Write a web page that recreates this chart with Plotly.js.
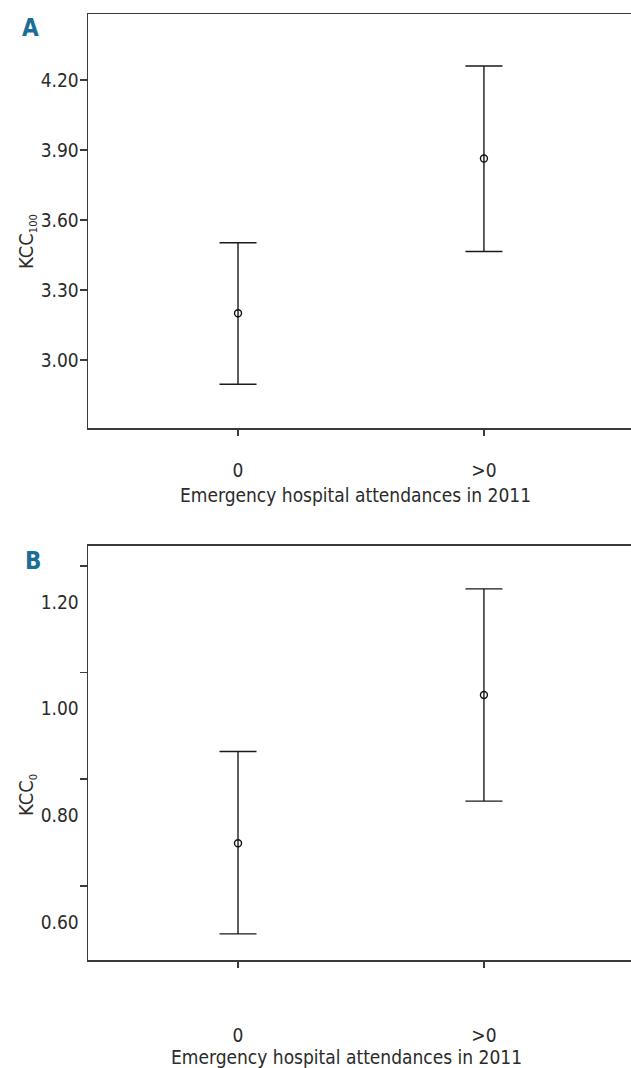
<!DOCTYPE html>
<html>
<head>
<meta charset="utf-8">
<script src="https://cdn.plot.ly/plotly-3.0.1.min.js"></script>
<style>
  html, body { margin: 0; padding: 0; background: #fff; }
  #chart { width: 631px; height: 1068px; }
</style>
</head>
<body>
<div id="chart"></div>
<script>
// ---- Data ----
const categories = ['0', '>0'];

// Panel A: KCC100, mean with 95% CI
const meanA  = [3.200, 3.864];
const upperA = [3.503, 4.261];
const lowerA = [2.896, 3.465];
const tickValsA = [3.00, 3.30, 3.60, 3.90, 4.20];
const tickTextA = ['3.00', '3.30', '3.60', '3.90', '4.20'];

// Panel B: KCC0, mean with 95% CI
const meanB  = [0.680, 0.958];
const upperB = [0.852, 1.157];
const lowerB = [0.510, 0.759];
const tickValsB = [0.60, 0.80, 1.00, 1.20];
const tickTextB = ['0.60', '0.80', '1.00', '1.20'];

const xTitle = 'Emergency hospital attendances in 2011';

// ---- Styling ----
const FONT = 'DejaVu Sans Condensed, Liberation Sans Narrow, sans-serif';
const INK = '#2b2b2b';
const AX = '#3a3a3a';

function ciTrace(mean, upper, lower, xa, ya) {
  return {
    type: 'scatter', mode: 'markers',
    x: categories, y: mean, xaxis: xa, yaxis: ya,
    marker: { symbol: 'circle-open', size: 7, color: '#111', line: { width: 1.4, color: '#111' } },
    error_y: {
      type: 'data', symmetric: false,
      array: upper.map((u, i) => u - mean[i]),
      arrayminus: lower.map((l, i) => mean[i] - l),
      color: '#1a1a1a', thickness: 1.4, width: 18.5
    },
    hoverinfo: 'skip'
  };
}

const data = [
  ciTrace(meanA, upperA, lowerA, 'x', 'y'),
  ciTrace(meanB, upperB, lowerB, 'x2', 'y2')
];

function xAxis(anchor, standoff) {
  return {
    type: 'category', categoryorder: 'array', categoryarray: categories,
    range: [-0.61, 1.598], domain: [88 / 631, 1], anchor: anchor,
    showline: true, linecolor: AX, linewidth: 1.5, mirror: true,
    ticks: 'outside', ticklen: 6, tickwidth: 1.5, tickcolor: AX,
    ticklabelstandoff: standoff,
    showgrid: false, zeroline: false, automargin: false,
    tickfont: { family: FONT, size: 19, color: INK }
  };
}

function yAxis(anchor, domain, range, vals, text, shift) {
  return {
    domain: domain, range: range, anchor: anchor,
    showline: true, linecolor: AX, linewidth: 1.5, mirror: false,
    ticks: 'outside', ticklen: 7, tickwidth: 1.5, tickcolor: AX,
    tickmode: 'array', tickvals: vals, ticktext: text,
    ticklabelshift: shift, ticklabelstandoff: -3,
    showgrid: false, zeroline: false, automargin: false,
    tickfont: { family: FONT, size: 19, color: INK }
  };
}

const H = 1068, W = 631;
const py = v => 1 - v / H;   // pixel row -> paper y
const px = v => v / W;       // pixel col -> paper x

const layout = {
  width: W, height: H,
  margin: { l: 0, r: 0, t: 0, b: 0, pad: 0 },
  paper_bgcolor: '#fff', plot_bgcolor: '#fff',
  showlegend: false, hovermode: false,
  xaxis:  xAxis('y', 19),
  yaxis:  yAxis('x',  [py(428), py(14)], [2.708, 4.484], tickValsA, tickTextA, 0),
  xaxis2: xAxis('y2', 52),
  yaxis2: yAxis('x2', [py(960), py(545.7)], [0.461, 1.238], tickValsB, tickTextB, 36),
  annotations: [
    { text: '<b>A</b>', xref: 'paper', yref: 'paper', x: px(30), y: py(28),
      xanchor: 'center', yanchor: 'middle', showarrow: false,
      font: { family: FONT, size: 24, color: '#1b6e96' } },
    { text: '<b>B</b>', xref: 'paper', yref: 'paper', x: px(33), y: py(561),
      xanchor: 'center', yanchor: 'middle', showarrow: false,
      font: { family: FONT, size: 24, color: '#1b6e96' } },
    { text: xTitle, xref: 'paper', yref: 'paper', x: px(355.5), y: py(495),
      xanchor: 'center', yanchor: 'middle', showarrow: false,
      font: { family: FONT, size: 19, color: INK } },
    { text: xTitle, xref: 'paper', yref: 'paper', x: px(346.7), y: py(1057),
      xanchor: 'center', yanchor: 'middle', showarrow: false,
      font: { family: FONT, size: 19, color: INK } },
    { text: 'KCC<sub><span style="font-size:11px">100</span></sub>', xref: 'paper', yref: 'paper', x: px(27), y: py(242),
      textangle: -90, xanchor: 'center', yanchor: 'middle', showarrow: false,
      font: { family: FONT, size: 20, color: INK } },
    { text: 'KCC<sub><span style="font-size:11px">0</span></sub>', xref: 'paper', yref: 'paper', x: px(27), y: py(795),
      textangle: -90, xanchor: 'center', yanchor: 'middle', showarrow: false,
      font: { family: FONT, size: 20, color: INK } }
  ]
};

Plotly.newPlot('chart', data, layout, { staticPlot: true, displayModeBar: false });
</script>
</body>
</html>
